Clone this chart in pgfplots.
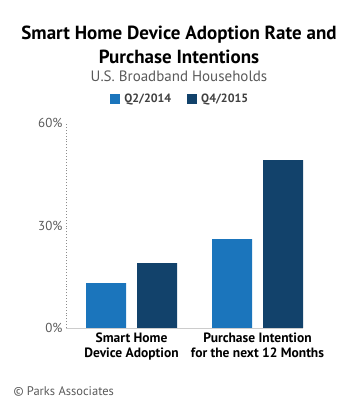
\documentclass[border=0pt]{standalone}
\usepackage{pgfplots}
\pgfplotsset{compat=1.18}
\usepackage{fontspec}
\setmainfont{PT Sans}
\definecolor{lightb}{HTML}{1B75BC}
\definecolor{darkb}{HTML}{12426B}
\definecolor{txtgray}{HTML}{5A5A5A}
\begin{document}
\begin{tikzpicture}[x=1pt,y=1pt]
\path[use as bounding box] (0,0) rectangle (357,406);
\node[font=\bfseries\fontsize{19}{24}\selectfont, align=center] at (179,361) {Smart Home Device Adoption Rate and\\Purchase Intentions};
\node[font=\fontsize{15}{18}\selectfont, text=txtgray] at (179,330) {U.S. Broadband Households};
\node[font=\fontsize{12.5}{15}\selectfont, text=txtgray, anchor=west] at (10,15) {\textcopyright\ Parks Associates};
\begin{axis}[
  at={(66pt,78pt)}, anchor=south west,
  scale only axis, width=237pt, height=205pt,
  ymin=0, ymax=60, xmin=-0.52, xmax=1.361,
  ybar=11pt, bar width=40pt,
  axis x line*=bottom, axis y line*=left,
  x axis line style={draw=black!20, line width=0.8pt},
  y axis line style={draw=black!45, dotted, line width=0.9pt},
  major tick length=0pt,
  ytick={0,30,60}, yticklabels={0\%,30\%,60\%},
  yticklabel style={font=\fontsize{13}{15}\selectfont, text=txtgray},
  xtick={0,1},
  xticklabels={{Smart Home\\Device Adoption},{Purchase Intention\\for the next 12 Months}},
  xticklabel style={align=center, font=\bfseries\fontsize{13.5}{15.5}\selectfont, yshift=-1pt},
  legend style={at={(0.482,1.117)}, anchor=center, draw=none, fill=none,
    legend columns=2, font=\bfseries\fontsize{12}{14}\selectfont, text=black!75,
    /tikz/every even column/.append style={column sep=14pt}},
  legend image code/.code={\fill[#1] (0pt,-5pt) rectangle (10pt,5pt); \path (12pt,0pt);},
  clip=false,
]
\addplot[fill=lightb, draw=none] coordinates {(0,13.1) (1,26.0)};
\addplot[fill=darkb, draw=none] coordinates {(0,19.0) (1,49.1)};
\legend{Q2/2014, Q4/2015}
\end{axis}
\end{tikzpicture}
\end{document}
